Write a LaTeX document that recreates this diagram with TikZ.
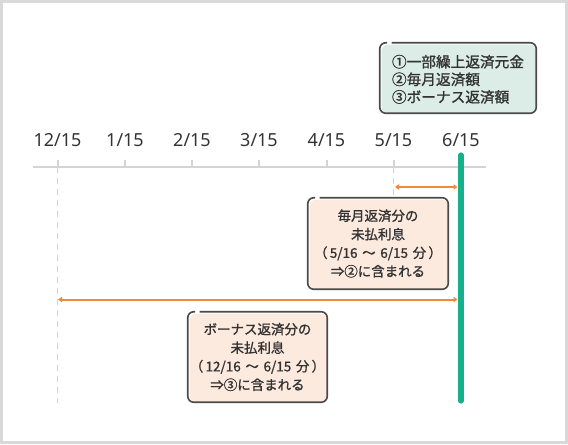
\documentclass[tikz,border=0pt]{standalone}
\usepackage{fontspec}
\newfontfamily\jp[FakeBold=1.2]{Noto Sans CJK JP}
\newfontfamily\lat{Noto Sans}
\usetikzlibrary{arrows.meta,calc}
\definecolor{framegray}{HTML}{D9D9D9}
\definecolor{axisgray}{HTML}{D4D4D4}
\definecolor{dashgray}{HTML}{D0D0D0}
\definecolor{txt}{HTML}{333333}
\definecolor{boxborder}{HTML}{4A4A4A}
\definecolor{peach}{HTML}{FDEADF}
\definecolor{mint}{HTML}{DCEDE8}
\definecolor{green}{HTML}{17B08B}
\definecolor{orange}{HTML}{F08A38}
\tikzset{
  ticklabel/.style={font=\lat\fontsize{13.5pt}{16pt}\selectfont, text=txt, inner sep=0pt},
  tickline/.style={draw=axisgray, line width=1.5pt},
  guide/.style={draw=dashgray, line width=1.2pt, dash pattern=on 4.5pt off 3.75pt},
  span/.style={draw=orange, line width=1.5pt, {Triangle[length=3pt,width=4pt]}-{Triangle[length=3pt,width=4pt]}},
  infobox/.style={inner sep=0pt, align=center, text=txt, font=\jp\fontsize{10.1pt}{13.9pt}\selectfont},
  legendbox/.style={inner sep=0pt, align=left, text=txt, font=\jp\fontsize{11pt}{13.2pt}\selectfont},
}
\newcommand\gapframe[2]{%
  \fill[#2, rounded corners=4.5pt] ([xshift=1.5pt,yshift=-1.5pt]#1.north west) rectangle (#1.south east);
  \draw[boxborder, line width=1.2pt, rounded corners=4.5pt]
    ([xshift=9pt]#1.north west) -- (#1.north east) -- (#1.south east) -- (#1.south west) -- (#1.north west) -- ([xshift=5.5pt]#1.north west);
}
\newcommand\wsp{\hspace{3.5pt}}
\begin{document}
\begin{tikzpicture}[x=0.75pt,y=-0.75pt]
\useasboundingbox (0,0) rectangle (568,444);
\draw[framegray, line width=1.9pt] (1.3,1.3) rectangle (566.7,442.7);

% axis
\coordinate (axL) at (33,167);
\coordinate (axR) at (486,167);
\draw[tickline] (axL) -- (axR);

% tick labels
\node[ticklabel] (t0) at (57.5,140) {12/15};
\node[ticklabel] (t1) at (125,140) {1/15};
\node[ticklabel] (t2) at (192,140) {2/15};
\node[ticklabel] (t3) at (259,140) {3/15};
\node[ticklabel] (t4) at (326.5,140) {4/15};
\node[ticklabel] (t5) at (393.5,140) {5/15};
\node[ticklabel] (t6) at (461,140) {6/15};

% ticks
\foreach \i/\x in {0/57.5,1/125,2/192,3/259,4/326.5,5/393.5}{
  \coordinate (k\i) at (\x,160);
  \coordinate (b\i) at (\x,167);
  \draw[tickline] (k\i) -- (b\i);
}

% box outlines (empty nodes used as frames)
\node[inner sep=0pt, minimum width=105pt, minimum height=68.25pt] (mbox) at (378,243.5) {};
\node[inner sep=0pt, minimum width=104.25pt, minimum height=67.5pt] (bbox) at (257.5,357) {};
\node[inner sep=0pt, minimum width=117pt, minimum height=52.5pt] (legend) at (458,78) {};

% dashed guides
\coordinate (g0) at (57.5,403);
\coordinate (g5) at (393.5,197);
\draw[guide] (b0) -- (g0);
\draw[guide] (b5) -- (g5);

% frames and texts
\gapframe{legend}{mint}
\gapframe{mbox}{peach}
\gapframe{bbox}{peach}
\node[legendbox] (legendtext) at ([yshift=-1pt]legend.center) {①一部繰上返済元金\\②毎月返済額\\③ボーナス返済額};
\node[infobox] (mtext) at (mbox.center) {毎月返済分の\\未払利息\\（\,5/16{\wsp}～{\wsp}6/15{\wsp}分\,）\\⇒②に含まれる};
\node[infobox] (btext) at (bbox.center) {ボーナス返済分の\\未払利息\\（\,12/16{\wsp}～{\wsp}6/15{\wsp}分\,）\\⇒③に含まれる};

% spans
\coordinate (s1a) at (395,187);
\coordinate (s1b) at (457.5,187);
\coordinate (s2a) at (58,299.5);
\coordinate (s2b) at (457.5,299.5);
\draw[span] (s1a) -- (s1b);
\draw[span] (s2a) -- (s2b);

% green line
\coordinate (gt) at (461,155);
\coordinate (gb) at (461,401);
\draw[green, line width=3.9pt, line cap=round] (gt) -- (gb);
\end{tikzpicture}
\end{document}
